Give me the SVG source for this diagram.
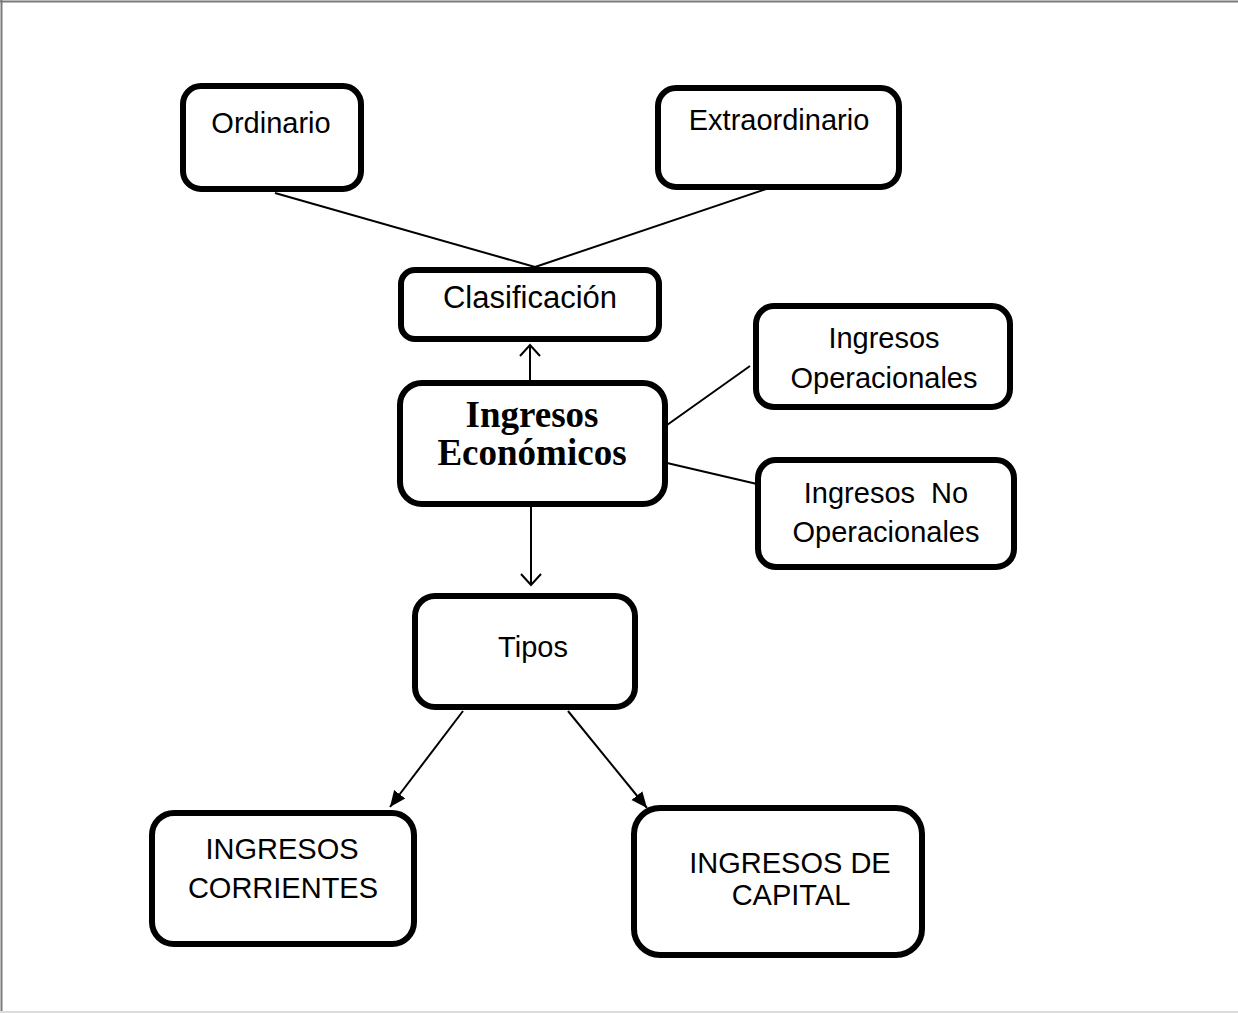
<svg xmlns="http://www.w3.org/2000/svg" width="1238" height="1013" viewBox="0 0 1238 1013">
<style>
.box{fill:#fff;stroke:#000;stroke-width:6}
.t{font-family:"Liberation Sans",Arial,sans-serif;font-size:29px;fill:#000;text-anchor:middle}
.b{font-family:"Liberation Serif","Times New Roman",serif;font-size:37px;font-weight:bold;fill:#000;text-anchor:middle}
.c{stroke:#000;stroke-width:2;fill:none}
</style>
<defs>
<marker id="open" markerWidth="24" markerHeight="24" refX="12" refY="12" orient="auto" markerUnits="userSpaceOnUse">
<path d="M1,2 L12,12 L1,22" fill="none" stroke="#000" stroke-width="2"/>
</marker>
<marker id="fill" markerWidth="20" markerHeight="20" refX="16" refY="8" orient="auto" markerUnits="userSpaceOnUse">
<path d="M0,1 L16,8 L0,15 Z" fill="#000"/>
</marker>
</defs>
<rect width="1238" height="1013" fill="#fff"/>
<line x1="0" y1="1.5" x2="1238" y2="1.5" stroke="#7a7a7a" stroke-width="2"/>
<line x1="1.5" y1="0" x2="1.5" y2="1013" stroke="#7a7a7a" stroke-width="2"/>
<line x1="0" y1="1012" x2="1238" y2="1012" stroke="#dcdcdc" stroke-width="2"/>

<g id="connectors">
<line class="c" x1="275" y1="193" x2="535" y2="267"/>
<line class="c" x1="535" y1="267" x2="772" y2="187"/>
<line class="c" x1="530" y1="380" x2="530" y2="345" marker-end="url(#open)"/>
<line class="c" x1="531" y1="502" x2="531" y2="585" marker-end="url(#open)"/>
<line class="c" x1="463" y1="711" x2="390" y2="807" marker-end="url(#fill)"/>
<line class="c" x1="568" y1="711" x2="647" y2="808" marker-end="url(#fill)"/>
<line class="c" x1="667" y1="425" x2="750" y2="366"/>
<line class="c" x1="667" y1="463" x2="757" y2="484"/>
</g>

<g id="ordinario">
<rect class="box" x="183" y="86" width="178" height="103" rx="18"/>
<text class="t" x="271" y="133">Ordinario</text>
</g>
<g id="extraordinario">
<rect class="box" x="658" y="88" width="241" height="99" rx="18"/>
<text class="t" x="779" y="130">Extraordinario</text>
</g>
<g id="clasificacion">
<rect class="box" x="401" y="270" width="258" height="69" rx="14"/>
<text class="t" x="530" y="308" style="font-size:31px">Clasificación</text>
</g>
<g id="ingresos-economicos">
<rect class="box" x="400" y="383" width="265" height="121" rx="22"/>
<text class="b" x="532" y="427">Ingresos</text>
<text class="b" x="532" y="465">Económicos</text>
</g>
<g id="ingresos-operacionales">
<rect class="box" x="756" y="306" width="254" height="101" rx="18"/>
<text class="t" x="884" y="348">Ingresos</text>
<text class="t" x="884" y="388">Operacionales</text>
</g>
<g id="ingresos-no-operacionales">
<rect class="box" x="758" y="460" width="256" height="107" rx="18"/>
<text class="t" x="886" y="503" xml:space="preserve">Ingresos  No</text>
<text class="t" x="886" y="542">Operacionales</text>
</g>
<g id="tipos">
<rect class="box" x="415" y="596" width="220" height="111" rx="20"/>
<text class="t" x="533" y="657">Tipos</text>
</g>
<g id="ingresos-corrientes">
<rect class="box" x="152" y="813" width="262" height="131" rx="22"/>
<text class="t" x="282" y="859">INGRESOS</text>
<text class="t" x="283" y="898">CORRIENTES</text>
</g>
<g id="ingresos-de-capital">
<rect class="box" x="634" y="808" width="288" height="147" rx="26"/>
<text class="t" x="790" y="873">INGRESOS DE</text>
<text class="t" x="791" y="905">CAPITAL</text>
</g>
</svg>
